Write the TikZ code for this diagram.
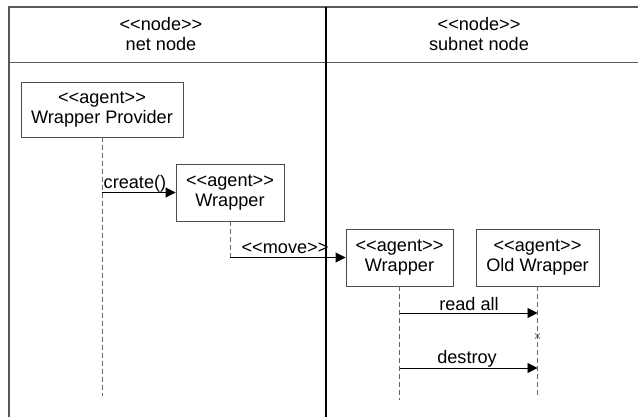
\documentclass[tikz,border=0pt]{standalone}
\usepackage{fontspec}
\setmainfont{Liberation Sans}
\usetikzlibrary{arrows.meta,shapes.misc}
\begin{document}
\begin{tikzpicture}[x=1bp,y=-1bp,
  txt/.style={font=\fontsize{18.2}{21}\selectfont},
  agent/.style={txt, draw=black!70, line width=0.9bp, fill=white, align=center, inner sep=0pt},
  life/.style={draw=black!60, dash pattern=on 5bp off 3bp, line width=0.9bp},
  msg/.style={draw=black, line width=0.9bp, -{Triangle[length=10bp,width=10bp]}},
  frame/.style={draw=black!65, line width=1.3bp},
  lbl/.style={txt, inner sep=0pt, anchor=base}]
\useasboundingbox (0,0) rectangle (638,417);
% frame
\coordinate (tl) at (9,7);
\coordinate (tr) at (638,7);
\coordinate (bl) at (9,417);
\coordinate (hl) at (9,62.5);
\coordinate (hr) at (638,62.5);
\coordinate (mt) at (326,7);
\coordinate (mb) at (326,417);
\draw[frame] (tr) -- (tl) -- (bl);
\draw[frame] (hl) -- (hr);
\draw[draw=black, line width=1.1bp] (mt) -- (mb);
% header texts
\node[lbl] (h1a) at (161,30) {<{}<node>{}>};
\node[lbl] (h1b) at (161,50) {net node};
\node[lbl] (h2a) at (479,30) {<{}<node>{}>};
\node[lbl] (h2b) at (479,50) {subnet node};
% agents
\node[agent, minimum width=162bp, minimum height=55bp] (wp) at (102,109.5) {<{}<agent>{}>\\Wrapper Provider};
\node[agent, minimum width=108bp, minimum height=57bp] (w1) at (230,192.5) {<{}<agent>{}>\\Wrapper};
\node[agent, minimum width=107bp, minimum height=57bp] (w2) at (399.5,257.5) {<{}<agent>{}>\\Wrapper};
\node[agent, minimum width=123bp, minimum height=57bp] (ow) at (537.5,257.5) {<{}<agent>{}>\\Old Wrapper};
% lifelines
\coordinate (wpEnd) at (102,396);
\coordinate (w1End) at (230,257.5);
\coordinate (w2End) at (399.5,400);
\coordinate (owEnd) at (537.5,398);
\draw[life] (wp.south) -- (wpEnd);
\draw[life] (w1.south) -- (w1End);
\draw[life] (w2.south) -- (w2End);
\draw[life] (ow.south) -- (owEnd);
% messages
\coordinate (cS) at (102,192.5);
\draw[msg] (cS) -- (w1.west);
\node[txt, inner sep=0pt, anchor=base west] (cL) at (103.5,188) {create()};
\draw[msg] (w1End) -- (w2.west);
\node[lbl] (mL) at (285,253) {<{}<move>{}>};
\coordinate (r1) at (399.5,313);
\coordinate (r2) at (537.5,313);
\draw[msg] (r1) -- (r2);
\node[lbl] (rL) at (469,310) {read all};
\node[cross out, draw=black!75, line width=0.6bp, minimum size=4.5bp, inner sep=0pt] (xm) at (537.5,336) {};
\coordinate (d1) at (399.5,368);
\coordinate (d2) at (537.5,368);
\draw[msg] (d1) -- (d2);
\node[lbl] (dL) at (467,363) {destroy};
\end{tikzpicture}
\end{document}
